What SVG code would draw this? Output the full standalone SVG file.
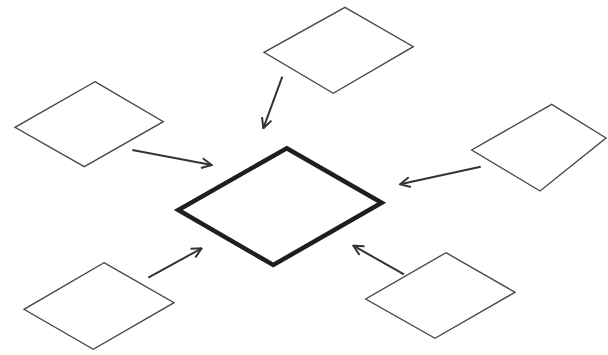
<svg xmlns="http://www.w3.org/2000/svg" width="608" height="355" viewBox="0 0 608 355">
<style>
.d{fill:#fff;stroke:#4a4a4a;stroke-width:1.4;stroke-linejoin:miter}
.c{fill:#fff;stroke:#1e1e1e;stroke-width:4.5;stroke-linejoin:miter}
.a{fill:none;stroke:#333;stroke-width:2;marker-end:url(#ah)}
</style>
<defs>
<marker id="ah" viewBox="0 0 12 12" refX="11" refY="6" markerWidth="12" markerHeight="12" markerUnits="userSpaceOnUse" orient="auto">
<path d="M1,1 L11,6 L1,11" fill="none" stroke="#333" stroke-width="2"/>
</marker>
</defs>
<rect width="608" height="355" fill="#fff"/>
<g id="center"><polygon class="c" points="286.7,148.3 381.7,202.7 273.3,265 178.3,210"/></g>
<g id="topleft"><polygon class="d" points="95,81.7 163.3,121.7 84.3,166.7 15,127.3"/></g>
<g id="top"><polygon class="d" points="345,7.3 413.3,46.7 333.3,93.3 264,52.3"/></g>
<g id="right"><polygon class="d" points="551.7,104.3 606,138 540,191 471.7,150"/></g>
<g id="bottomleft"><polygon class="d" points="104,262.7 174,302.7 93.3,349.3 24,309.3"/></g>
<g id="bottomright"><polygon class="d" points="446,252.7 515,292.3 435,338.3 365.7,299"/></g>
<g id="connectors">
<line class="a" x1="132.3" y1="150" x2="211.7" y2="165"/>
<line class="a" x1="282.3" y1="76.7" x2="263.3" y2="128.3"/>
<line class="a" x1="480.7" y1="166.7" x2="400" y2="184.3"/>
<line class="a" x1="148.3" y1="277.7" x2="201.7" y2="248.3"/>
<line class="a" x1="404" y1="274.3" x2="353.3" y2="245.7"/>
</g>
</svg>
